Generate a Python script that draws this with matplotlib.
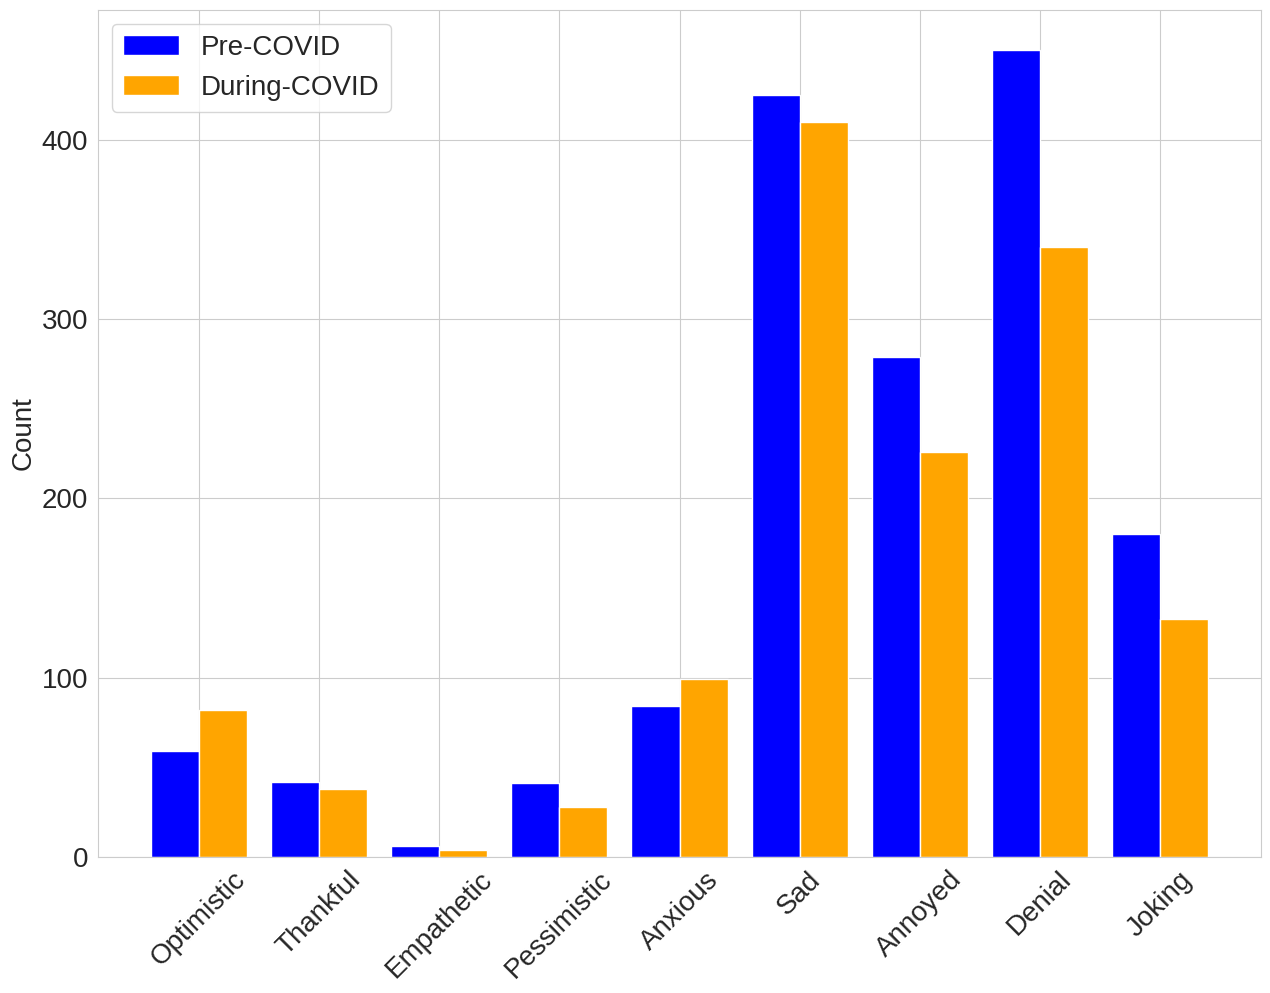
import numpy as np
import matplotlib
matplotlib.use("Agg")
import matplotlib.pyplot as plt
import seaborn as sns

sns.set_style("whitegrid")
plt.rcParams['font.family'] = ['Liberation Sans', 'DejaVu Sans']

categories = ["Optimistic", "Thankful", "Empathetic", "Pessimistic", "Anxious",
              "Sad", "Annoyed", "Denial", "Joking"]
pre_covid = [59, 42, 6, 41, 84, 425, 279, 450, 180]
during_covid = [82, 38, 4, 28, 99, 410, 226, 340, 133]

x = np.arange(len(categories))
w = 0.4

fig, ax = plt.subplots(figsize=(12.7, 9.93), dpi=100)
ax.bar(x - w / 2, pre_covid, w, color="blue", label="Pre-COVID")
ax.bar(x + w / 2, during_covid, w, color="orange", label="During-COVID")

ax.set_xticks(x)
ax.set_xticklabels(categories, rotation=45, fontsize=20)
ax.tick_params(axis="y", labelsize=20)
ax.set_ylabel("Count", fontsize=20)
ax.legend(fontsize=20, loc="upper left")

plt.subplots_adjust(left=0.0772, right=0.9929, top=0.990, bottom=0.137)
plt.savefig("out.png")
